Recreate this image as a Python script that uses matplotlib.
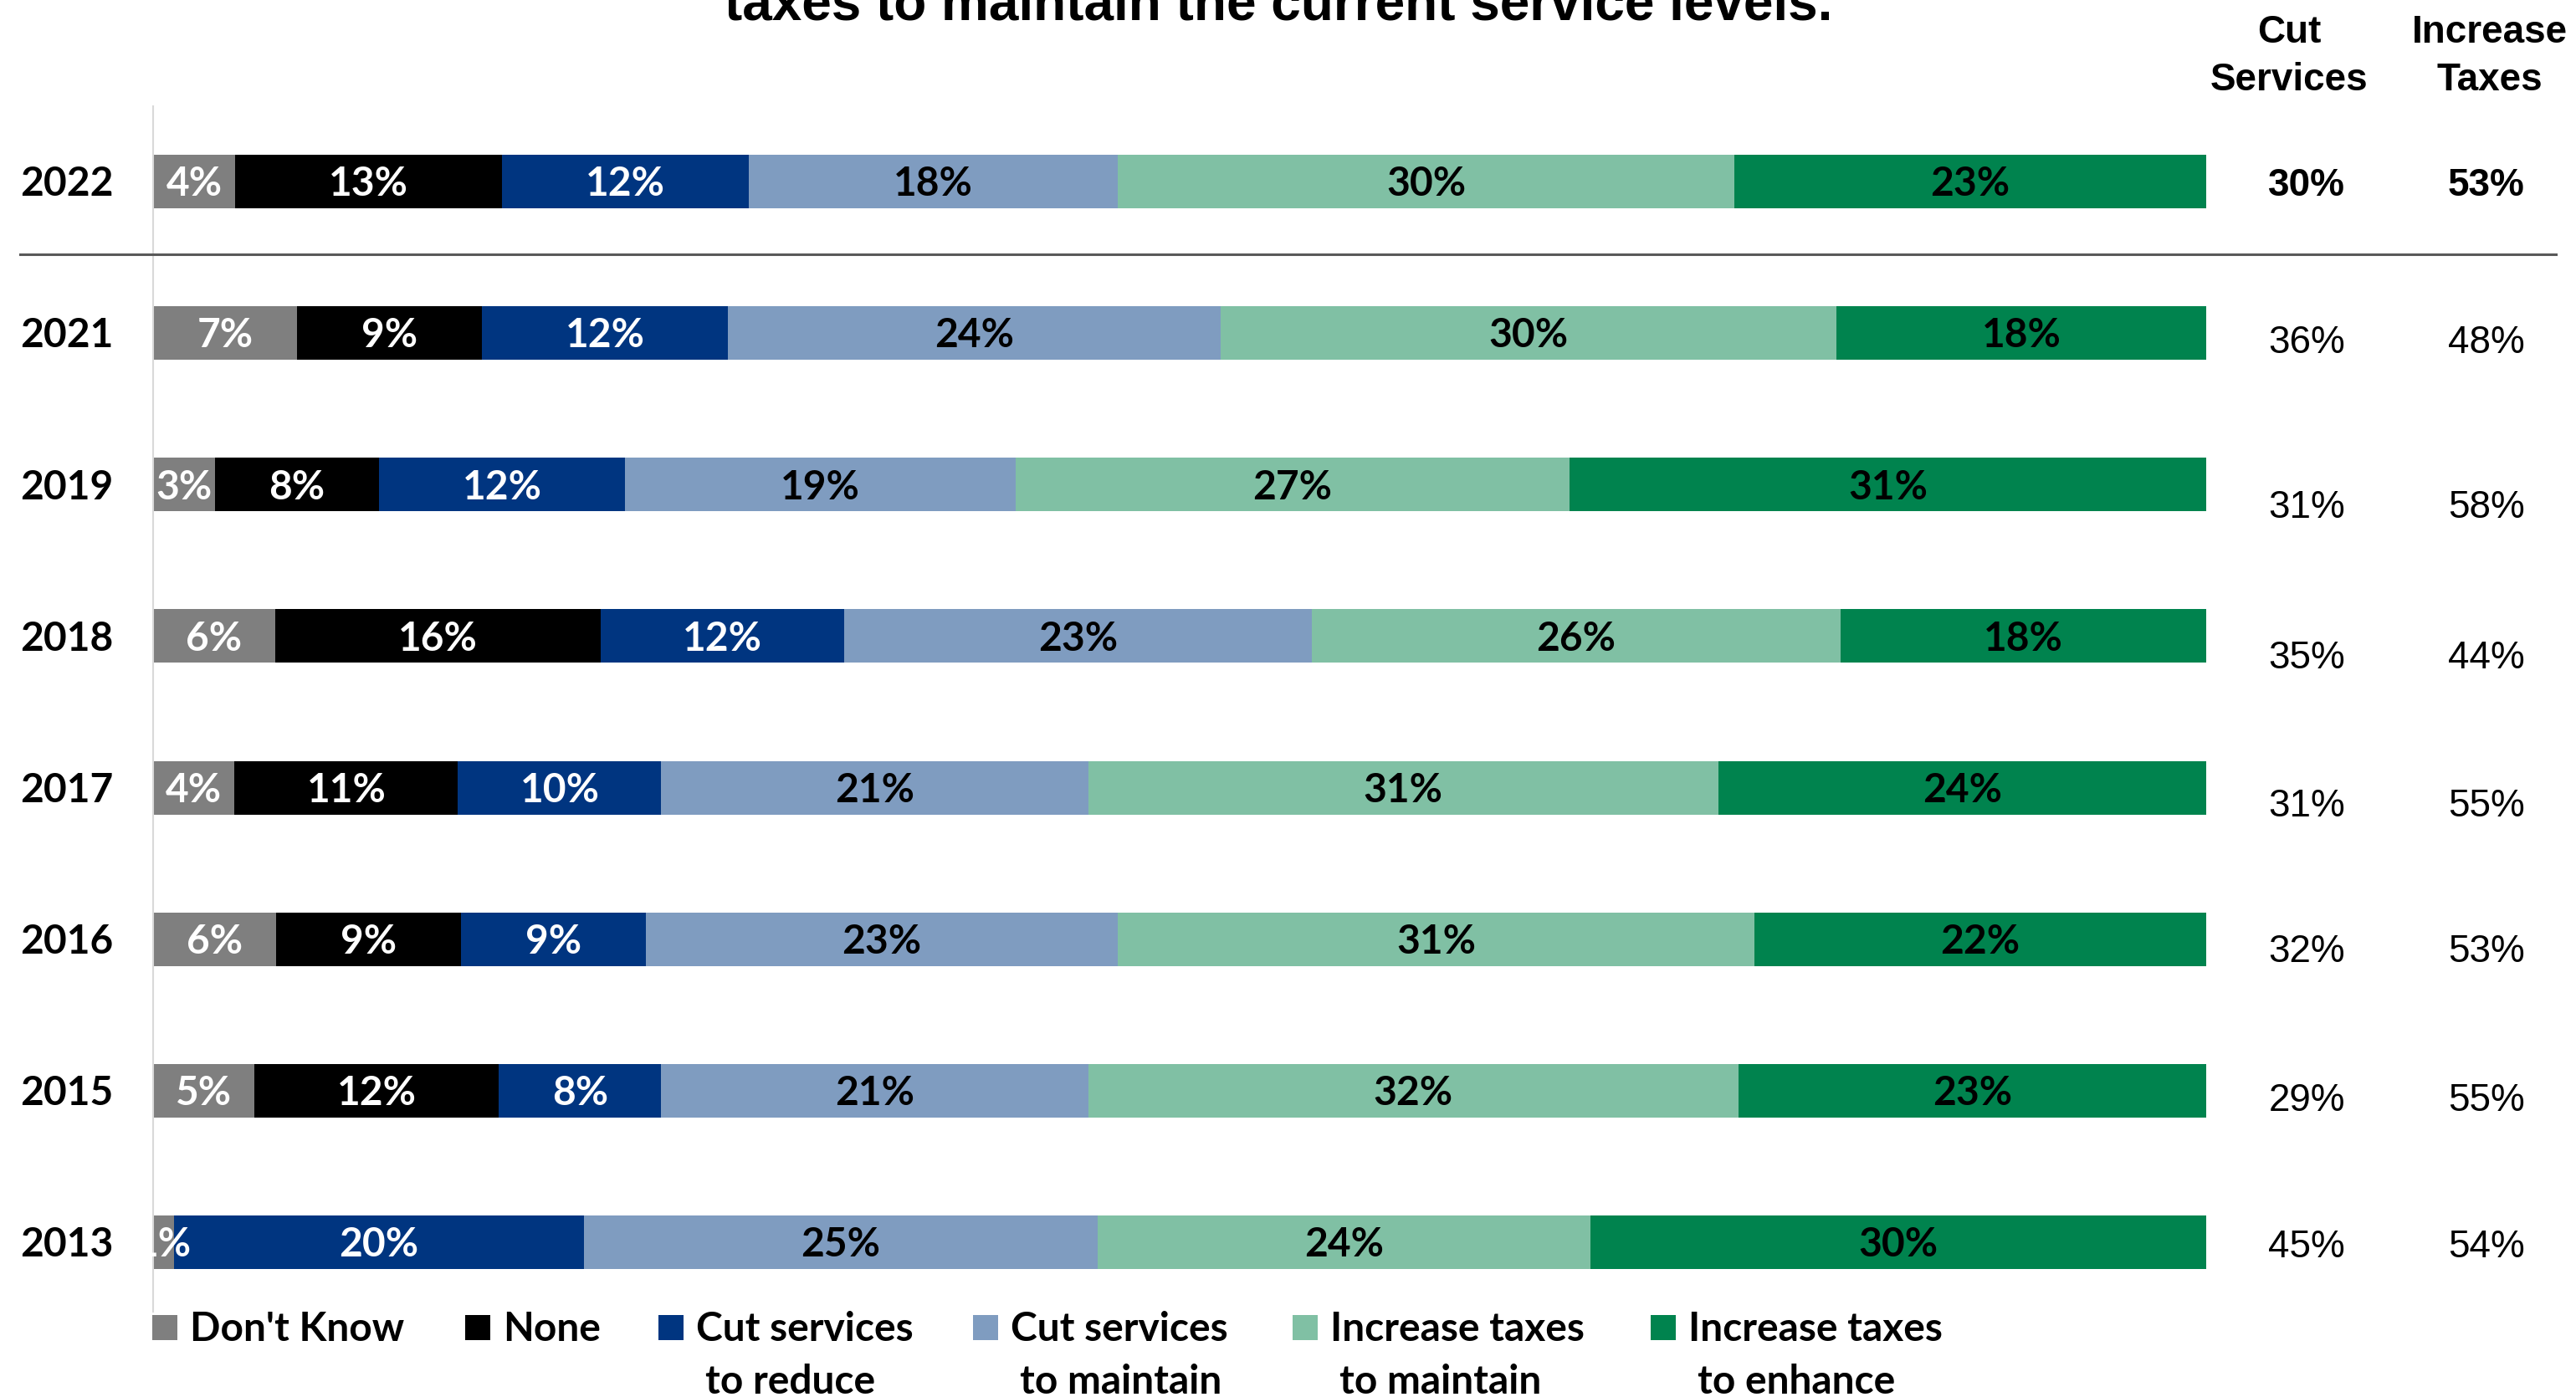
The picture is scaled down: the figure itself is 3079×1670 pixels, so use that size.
import matplotlib
matplotlib.use("Agg")
import matplotlib.pyplot as plt
from matplotlib.patches import Rectangle
from matplotlib.lines import Line2D
from matplotlib import transforms
import numpy as np

# Survey responses by year (percent of respondents)
years = ["2022", "2021", "2019", "2018", "2017", "2016", "2015", "2013"]
series_names = ["Don't Know", "None", "Cut services\nto reduce", "Cut services\nto maintain",
                "Increase taxes\nto maintain", "Increase taxes\nto enhance"]
dont_know = [4, 7, 3, 6, 4, 6, 5, 1]
none = [13, 9, 8, 16, 11, 9, 12, 0]
cut_reduce = [12, 12, 12, 12, 10, 9, 8, 20]
cut_maintain = [18, 24, 19, 23, 21, 23, 21, 25]
tax_maintain = [30, 30, 27, 26, 31, 31, 32, 24]
tax_enhance = [23, 18, 31, 18, 24, 22, 23, 30]
cut_total = [30, 36, 31, 35, 31, 32, 29, 45]
tax_total = [53, 48, 58, 44, 55, 53, 55, 54]

title = "taxes to maintain the current service levels."

colors = ["#7f7f7f", "#000000", "#003580", "#7f9cc0", "#80c0a4", "#00834e"]
text_colors = ["white", "white", "white", "black", "black", "black"]

W, H = 3079, 1670
fig = plt.figure(figsize=(W / 100, H / 100), dpi=100)
fig.patch.set_facecolor("white")


def fx(px):
    return px / W


def fy(py):
    return 1 - py / H


BAR_FONT = dict(family=["Lato", "DejaVu Sans"], weight="bold", size=34.5)
ARIAL = ["Liberation Sans", "DejaVu Sans"]

ax = fig.add_axes([fx(183), fy(1575.5), fx(2637) - fx(183), fy(126.5) - fy(1575.5)])
ax.set_xlim(0, 100)
ax.set_ylim(len(years) - 0.5, -0.5)
ax.set_xticks([])
ax.set_yticks([])
for side in ("top", "right", "bottom"):
    ax.spines[side].set_visible(False)
ax.spines["left"].set_color("#d9d9d9")
ax.spines["left"].set_linewidth(1.5)
ax.spines["left"].set_bounds(len(years) - 0.54, -0.5)

data = np.array([dont_know, none, cut_reduce, cut_maintain, tax_maintain, tax_enhance], dtype=float)
shares = data / data.sum(axis=0) * 100
ypos = np.arange(len(years))
lefts = np.zeros(len(years))
base_off = 0.095  # baseline shift so digits sit centred in the bar

for j in range(len(series_names)):
    ax.barh(ypos, shares[j], left=lefts, height=0.354, color=colors[j], linewidth=0)
    for i in range(len(years)):
        if data[j, i] > 0:
            ax.text(lefts[i] + shares[j, i] / 2, ypos[i] + base_off, f"{int(data[j, i])}%",
                    ha="center", va="baseline", color=text_colors[j], **BAR_FONT)
    lefts += shares[j]

blend = transforms.blended_transform_factory(fig.transFigure, ax.transData)

# Year labels
for i, yr in enumerate(years):
    fig.text(fx(80), 0, yr, transform=blend, ha="center", va="baseline",
             color="black", **BAR_FONT).set_y(ypos[i] + base_off)

# Summary columns
row_nudge = [0.0, 0.04, 0.13, 0.12, 0.10, 0.06, 0.045, 0.01]
for i in range(len(years)):
    wt = "bold" if i == 0 else "normal"
    yb = ypos[i] + 0.091 + row_nudge[i]
    ax.text(104.9, yb, f"{cut_total[i]}%", ha="center", va="baseline", family=ARIAL,
            weight=wt, size=33, clip_on=False)
    ax.text(113.65, yb, f"{tax_total[i]}%", ha="center", va="baseline", family=ARIAL,
            weight=wt, size=33, clip_on=False)

for x, lines in ((2736, ("Cut", "Services")), (2976, ("Increase", "Taxes"))):
    fig.text(fx(x), fy(51), lines[0], ha="center", va="baseline", family=ARIAL,
             weight="bold", size=33)
    fig.text(fx(x), fy(108), lines[1], ha="center", va="baseline", family=ARIAL,
             weight="bold", size=33)

# Divider under the latest year
fig.add_artist(Line2D([fx(24), fx(3055)], [0.482, 0.482], transform=blend,
                      color="#595959", linewidth=2.2))

# Title (second line)
fig.text(fx(1528), fy(23), title, ha="center", va="baseline", family=ARIAL,
         weight="bold", size=46)

# Legend
square_x = [182, 556, 787, 1163, 1545, 1973]
for j, name in enumerate(series_names):
    sx = square_x[j]
    fig.add_artist(Rectangle((fx(sx), fy(1602)), fx(30), 30 / H, transform=fig.transFigure,
                             facecolor=colors[j], edgecolor="none"))
    lines = name.split("\n")
    fig.text(fx(sx + 45), fy(1603), lines[0], ha="left", va="baseline", color="black",
             **BAR_FONT)
    if len(lines) > 1:
        fig.text(fx(sx + 56), fy(1666), lines[1], ha="left", va="baseline", color="black",
                 **BAR_FONT)

fig.savefig("out.png", dpi=100, facecolor="white")
